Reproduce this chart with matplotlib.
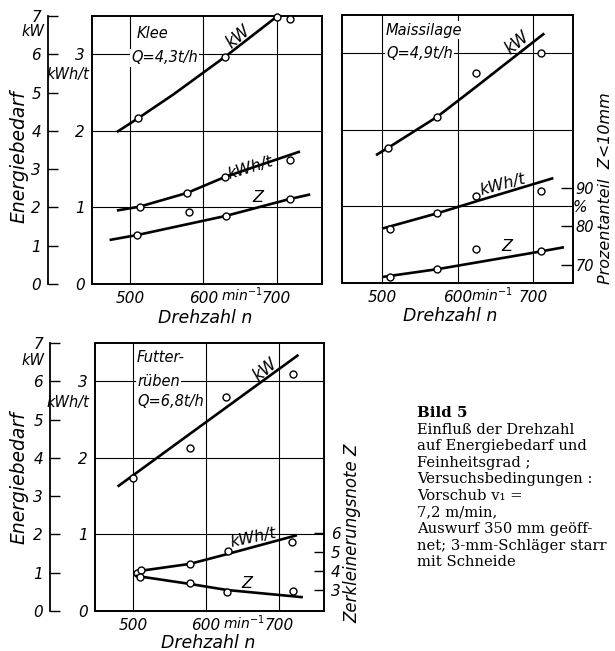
import matplotlib.pyplot as plt

W, H = 615, 651
FAM = ['Liberation Sans Narrow', 'DejaVu Sans']

# ── values ────────────────────────────────────────────────────────────────────
n_ticks = [500, 600, 700]
kwh_ticks = [0, 1, 2, 3]
kw_ticks = [0, 1, 2, 3, 4, 5, 6, 7]
proz_ticks = [70, 80, 90]
note_ticks = [3, 4, 5, 6]

# Klee, Q = 4,3 t/h  (Z drawn on the kWh/t scale, no own axis)
klee_kw_line_n = [482, 511, 559, 630, 700]
klee_kw_line = [3.97, 4.33, 4.95, 5.94, 6.98]
klee_kw_pts_n = [511, 630, 700, 718]
klee_kw_pts = [4.33, 5.94, 6.98, 6.91]
klee_kwh_line_n = [482, 513, 578, 630, 732]
klee_kwh_line = [0.96, 1.01, 1.19, 1.40, 1.73]
klee_kwh_pts_n = [513, 578, 630, 718]
klee_kwh_pts = [1.01, 1.19, 1.40, 1.62]
klee_z_line_n = [472, 510, 631, 718, 746]
klee_z_line = [0.575, 0.64, 0.89, 1.11, 1.17]
klee_z_pts_n = [510, 580, 631, 718]
klee_z_pts = [0.64, 0.94, 0.89, 1.11]

# Maissilage, Q = 4,9 t/h  (Z in % < 10 mm)
mais_kw_line_n = [492, 508, 573, 623, 715]
mais_kw_line = [3.34, 3.53, 4.34, 5.10, 6.52]
mais_kw_pts_n = [508, 573, 625, 710]
mais_kw_pts = [3.53, 4.34, 5.49, 6.01]
mais_kwh_line_n = [500, 573, 626, 727]
mais_kwh_line = [0.71, 0.91, 1.07, 1.37]
mais_kwh_pts_n = [510, 573, 625, 710]
mais_kwh_pts = [0.71, 0.91, 1.13, 1.20]
mais_z_line_n = [501, 573, 710, 741]
mais_z_line = [66.9, 68.9, 73.5, 74.6]
mais_z_pts_n = [510, 573, 625, 710]
mais_z_pts = [67.0, 68.9, 74.2, 73.5]

# Futterrüben, Q = 6,8 t/h  (Z = Zerkleinerungsnote)
rueb_kw_line_n = [479, 600, 727]
rueb_kw_line = [3.25, 4.93, 6.69]
rueb_kw_pts_n = [500, 578, 628, 720]
rueb_kw_pts = [3.48, 4.27, 5.58, 6.19]
rueb_kwh_line_n = [503, 578, 630, 725]
rueb_kwh_line = [0.515, 0.615, 0.745, 0.99]
rueb_kwh_pts_n = [505, 511, 578, 630, 718]
rueb_kwh_pts = [0.50, 0.535, 0.614, 0.788, 0.897]
rueb_z_line_n = [503, 578, 629, 733]
rueb_z_line = [3.75, 3.32, 3.0, 2.62]
rueb_z_pts_n = [510, 578, 629, 720]
rueb_z_pts = [3.70, 3.38, 2.91, 2.95]

caption = ["Einfluß der Drehzahl", "auf Energiebedarf und", "Feinheitsgrad ;",
           "Versuchsbedingungen :", "Vorschub v\u2081 =", "7,2 m/min,",
           "Auswurf 350 mm geöff-", "net; 3-mm-Schläger starr", "mit Schneide"]

# ── helpers (pixel layout) ────────────────────────────────────────────────────
fig = plt.figure(figsize=(W / 100, H / 100), dpi=100)


def rect(x0, y0, x1, y1):
    return [x0 / W, 1 - y1 / H, (x1 - x0) / W, (y1 - y0) / H]


def ptext(x, y, s, size=10.5, **kw):
    kw.setdefault('family', FAM)
    kw.setdefault('style', 'italic')
    kw.setdefault('va', 'center')
    return fig.text(x / W, 1 - y / H, s, fontsize=size, **kw)


def panel(box, xlim, left_labels):
    ax = fig.add_axes(rect(*box))
    ax.set_xlim(xlim)
    ax.set_ylim(0, 3.5)
    for v in n_ticks:
        ax.axvline(v, color='k', lw=0.8, zorder=1)
    for v in kwh_ticks[1:]:
        ax.axhline(v, color='k', lw=0.8, zorder=1)
    for s in ax.spines.values():
        s.set_linewidth(1.4)
    ax.set_xticks(n_ticks)
    ax.set_xticklabels([str(v) for v in n_ticks], fontsize=11,
                       family=FAM, style='italic')
    if left_labels:
        ax.set_yticks(kwh_ticks)
        ax.set_yticklabels([str(v) for v in kwh_ticks], fontsize=11,
                           family=FAM, style='italic')
    else:
        ax.set_yticks([])
    ax.tick_params(length=0, pad=5)
    kw = ax.twinx()
    kw.set_ylim(0, 7)
    kw.axis('off')
    return ax, kw


def kw_scale(x, y0, y1):
    a = fig.add_axes(rect(x, y0, x + 0.5, y1))
    a.patch.set_visible(False)
    for k in ['top', 'right', 'bottom']:
        a.spines[k].set_visible(False)
    a.spines['left'].set_linewidth(1.3)
    a.set_ylim(0, 7)
    a.set_yticks(kw_ticks)
    a.set_yticklabels([str(v) for v in kw_ticks], fontsize=11,
                      family=FAM, style='italic')
    a.tick_params(axis='y', direction='in', length=7, width=1, pad=5)
    a.set_xticks([])


def curve(ax, n, v, pn, pv):
    ax.plot(n, v, color='k', lw=1.9, zorder=3, solid_capstyle='butt')
    ax.plot(pn, pv, 'o', mfc='white', mec='k', ms=5, mew=1, zorder=4,
            clip_on=False)


# ── Klee ──────────────────────────────────────────────────────────────────────
ax1, kw1 = panel((92, 16, 322, 284), (448, 762), True)
curve(kw1, klee_kw_line_n, klee_kw_line, klee_kw_pts_n, klee_kw_pts)
curve(ax1, klee_kwh_line_n, klee_kwh_line, klee_kwh_pts_n, klee_kwh_pts)
curve(ax1, klee_z_line_n, klee_z_line, klee_z_pts_n, klee_z_pts)
kw_scale(48, 16, 284)

# ── Maissilage ────────────────────────────────────────────────────────────────
ax2, kw2 = panel((342, 15, 573, 283), (447, 753), False)
curve(kw2, mais_kw_line_n, mais_kw_line, mais_kw_pts_n, mais_kw_pts)
curve(ax2, mais_kwh_line_n, mais_kwh_line, mais_kwh_pts_n, mais_kwh_pts)
z2 = ax2.twinx()
z2.set_ylim(65.32, 134.9)
z2.set_frame_on(False)
z2.set_yticks(proz_ticks)
z2.set_yticklabels([str(v) for v in proz_ticks], fontsize=10.5,
                   family=FAM, style='italic')
z2.tick_params(axis='y', direction='in', length=9, width=1, pad=2)
curve(z2, mais_z_line_n, mais_z_line, mais_z_pts_n, mais_z_pts)

# ── Futterrüben ───────────────────────────────────────────────────────────────
ax3, kw3 = panel((95, 343, 324, 611), (448, 762), True)
curve(kw3, rueb_kw_line_n, rueb_kw_line, rueb_kw_pts_n, rueb_kw_pts)
curve(ax3, rueb_kwh_line_n, rueb_kwh_line, rueb_kwh_pts_n, rueb_kwh_pts)
z3 = ax3.twinx()
z3.set_ylim(1.895, 16.0)
z3.set_frame_on(False)
z3.set_yticks(note_ticks)
z3.set_yticklabels([str(v) for v in note_ticks], fontsize=11,
                   family=FAM, style='italic')
z3.tick_params(axis='y', direction='in', length=7, width=1, pad=5)
curve(z3, rueb_z_line_n, rueb_z_line, rueb_z_pts_n, rueb_z_pts)
kw_scale(50, 343, 611)

# ── texts ─────────────────────────────────────────────────────────────────────
box_bg = dict(facecolor='white', edgecolor='none', pad=1)

for x, y in [(221, 295), (471, 295), (223, 623)]:
    ptext(x, y, 'min$^{-1}$', size=10)
for x, y in [(205, 318), (450, 316), (208, 643)]:
    ptext(x, y, 'Drehzahl n', size=12.5, ha='center')
for y in [157, 478]:
    ptext(19, y, 'Energiebedarf', size=13.5, ha='center', rotation=90)
for ykw, ykwh in [(31, 74), (360, 402)]:
    ptext(33, ykw, 'kW', size=10.5, ha='center')
    ptext(68, ykwh, 'kWh/t', size=10.5, ha='center')

ptext(606, 188, 'Prozentanteil  Z<10mm', size=11.5, ha='center', rotation=90)
ptext(580, 207, '%', size=11, ha='center')
ptext(352, 533, 'Zerkleinerungsnote Z', size=12, ha='center', rotation=90)

ptext(137, 33, 'Klee', bbox=box_bg)
ptext(131, 58, 'Q=4,3t/h', bbox=box_bg)
ptext(386, 30, 'Maissilage', bbox=box_bg)
ptext(386, 53, 'Q=4,9t/h', bbox=box_bg)
ptext(137, 358, 'Futter-', bbox=box_bg)
ptext(137, 381, 'rüben', bbox=box_bg)
ptext(137, 402, 'Q=6,8t/h', bbox=box_bg)

for x, y, rot in [(238, 37, 40), (517, 43, 40), (265, 370, 40)]:
    ptext(x, y, 'kW', size=12, ha='center', rotation=rot)
for x, y, rot in [(250, 168, 17), (503, 185, 15), (253, 538, 12)]:
    ptext(x, y, 'kWh/t', size=11.5, ha='center', rotation=rot)
for x, y in [(258, 197), (507, 247), (247, 583)]:
    ptext(x, y, 'Z', size=11.5, ha='center')

ptext(417, 413, 'Bild 5', size=10.8, family='DejaVu Serif', style='normal',
      weight='bold')
for i, line in enumerate(caption):
    ptext(417, 429.5 + i * 16.6, line, size=10.6, family='DejaVu Serif',
          style='normal')

fig.savefig('out.png', dpi=100, facecolor='white')
